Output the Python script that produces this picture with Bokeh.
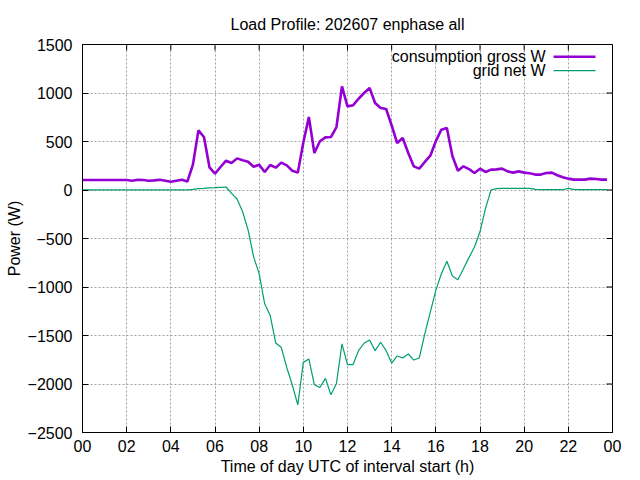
from bokeh.plotting import figure
from bokeh.models import Range1d, FixedTicker, Label, ColumnDataSource
from bokeh.embed import file_html
from bokeh.resources import INLINE

# ---------------- data ----------------
title_text = "Load Profile: 202607 enphase all"
x_label = "Time of day UTC of interval start (h)"
y_label = "Power (W)"
series_names = ["consumption gross W", "grid net W"]

# interval start, hours (15-minute intervals)
interval_start_h = [i * 0.25 for i in range(96)]

consumption_gross_w = [
    103, 103, 103, 103, 103, 103, 103, 103, 103, 96,
    106, 103, 96, 99, 106, 96, 85, 96, 106, 87,
    261, 615, 546, 234, 168, 237, 302, 278, 326, 306,
    292, 240, 261, 186, 258, 230, 282, 254, 199, 179,
    490, 752, 381, 502, 543, 546, 649, 1069, 862, 873,
    941, 1000, 1051, 897, 845, 835, 665, 484, 536, 381,
    244, 220, 289, 354, 502, 622, 639, 350, 199, 244,
    216, 175, 220, 186, 210, 213, 220, 192, 179, 192,
    179, 172, 159, 159, 176, 179, 152, 131, 117, 107,
    107, 107, 117, 114, 107, 107,
]

grid_net_w = [
    2, 2, 2, 2, 2, 2, 2, 2, 2, 2,
    2, 2, 2, 2, 2, 2, 2, 2, 2, 2,
    7, 14, 17, 21, 24, 28, 31, -35, -93, -224,
    -414, -690, -862, -1173, -1294, -1577, -1622, -1830, -2010, -2215,
    -1777, -1742, -2008, -2036, -1942, -2111, -1994, -1587, -1801, -1801,
    -1656, -1580, -1546, -1656, -1570, -1656, -1784, -1711, -1732, -1691,
    -1753, -1732, -1484, -1259, -1035, -863, -735, -887, -925, -811,
    -697, -587, -431, -190, 0, 14, 17, 17, 17, 17,
    17, 17, 7, 3, 3, 3, 3, 3, 17, 7,
    3, 3, 3, 3, 3, 3,
]

x_ticks = [0, 2, 4, 6, 8, 10, 12, 14, 16, 18, 20, 22, 24]
x_tick_labels = ["00", "02", "04", "06", "08", "10", "12", "14", "16", "18", "20", "22", "00"]
y_ticks = [-2500, -2000, -1500, -1000, -500, 0, 500, 1000, 1500]

# ---------------- styling ----------------
FONT = "Liberation Sans"
FS = "16px"
PURPLE = "#9400d3"
GREEN = "#009e73"
GRID = "#a0a0a0"
X0, X1, Y0, Y1 = 0, 24, -2500, 1500
TICK_PX = 6
FRAME_W, FRAME_H = 530, 388
W_PER_PX = (Y1 - Y0) / FRAME_H
H_PER_PX = (X1 - X0) / FRAME_W

src = ColumnDataSource(dict(t=interval_start_h, cons=consumption_gross_w, grid=grid_net_w))

p = figure(width=640, height=480,
           x_range=Range1d(X0, X1), y_range=Range1d(Y0, Y1),
           output_backend="svg", toolbar_location=None,
           min_border_left=82, min_border_right=28,
           min_border_top=44, min_border_bottom=48,
           background_fill_color="white", border_fill_color="white")

p.title.text = title_text
p.title.align = "center"
p.title.vertical_align = "bottom"
p.title.text_font = FONT
p.title.text_font_size = FS
p.title.text_font_style = "normal"
p.title.text_color = "black"
p.title.standoff = 23

p.outline_line_color = "black"
p.outline_line_width = 1
p.outline_line_alpha = 1

xt = FixedTicker(ticks=x_ticks)
yt = FixedTicker(ticks=y_ticks)

for ax in (p.xaxis[0], p.yaxis[0]):
    ax.major_label_text_font = FONT
    ax.major_label_text_font_size = FS
    ax.major_label_text_color = "black"
    ax.axis_label_text_font = FONT
    ax.axis_label_text_font_size = FS
    ax.axis_label_text_font_style = "normal"
    ax.axis_label_text_color = "black"
    ax.major_tick_in = TICK_PX
    ax.major_tick_out = 0
    ax.minor_tick_line_color = None
    ax.axis_line_color = "black"
    ax.major_tick_line_color = "black"

p.xaxis[0].ticker = xt
p.xaxis[0].major_label_overrides = {t: l for t, l in zip(x_ticks, x_tick_labels)}
p.xaxis[0].axis_label = x_label
p.xaxis[0].major_label_standoff = 7
p.xaxis[0].axis_label_standoff = 3

p.yaxis[0].ticker = yt
p.yaxis[0].axis_label = y_label
p.yaxis[0].major_label_standoff = 10
p.yaxis[0].axis_label_standoff = 2

p.xgrid.ticker = xt
p.ygrid.ticker = yt
for g in (p.xgrid[0], p.ygrid[0]):
    g.grid_line_color = GRID
    g.grid_line_dash = "2 2"
    g.grid_line_width = 1

# mirrored inward ticks on top and right edges (from the tick arrays)
dy_tick = TICK_PX * W_PER_PX
dx_tick = TICK_PX * H_PER_PX
p.segment(x0=x_ticks, y0=[Y1] * len(x_ticks), x1=x_ticks, y1=[Y1 - dy_tick] * len(x_ticks),
          line_color="black", line_width=1)
p.segment(x0=[X1] * len(y_ticks), y0=y_ticks, x1=[X1 - dx_tick] * len(y_ticks), y1=y_ticks,
          line_color="black", line_width=1)

p.line("t", "cons", source=src, line_color=PURPLE, line_width=2.6)
p.line("t", "grid", source=src, line_color=GREEN, line_width=1.2)

# ---------------- legend (gnuplot style: text, then sample) ----------------
leg_text_x = 20.97
leg_line_x0, leg_line_x1 = 21.33, 23.23
leg_rows_y = [1374, 1230]
for name, color, lw, yy in zip(series_names, [PURPLE, GREEN], [2.6, 1.2], leg_rows_y):
    p.add_layout(Label(x=leg_text_x, y=yy, text=name, text_align="right",
                       text_baseline="middle", text_font=FONT, text_font_size=FS,
                       text_color="black"))
    p.segment(x0=[leg_line_x0], y0=[yy], x1=[leg_line_x1], y1=[yy],
              line_color=color, line_width=lw)

open("out.html", "w").write(file_html(p, INLINE))
